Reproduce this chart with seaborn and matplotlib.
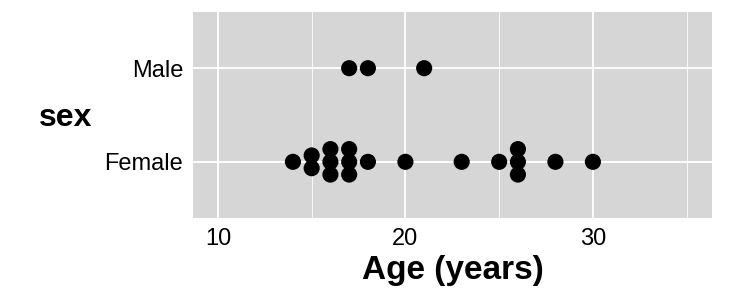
import numpy as np
import pandas as pd
import matplotlib.pyplot as plt
import seaborn as sns

# ages
female_ages = [14, 15, 15, 16, 16, 16, 17, 17, 17, 18, 20, 23, 25, 26, 26, 26, 28, 30]
male_ages = [17, 18, 21]
sex_levels = ['Female', 'Male']

df = pd.DataFrame({
    'age': female_ages + male_ages,
    'sex': ['Female'] * len(female_ages) + ['Male'] * len(male_ages),
})

# centred stacking of dots with the same age (like geom_dotplot stackdir='center')
step = 0.136
df['pos'] = df['sex'].map({s: i for i, s in enumerate(sex_levels)}).astype(float)
df['k'] = df.groupby(['sex', 'age']).cumcount()
df['n'] = df.groupby(['sex', 'age'])['age'].transform('size')
df['y'] = df['pos'] + (df['k'] - (df['n'] - 1) / 2) * step

sns.set_style('darkgrid')
plt.rcParams['font.family'] = ['Liberation Sans', 'DejaVu Sans']

fig = plt.figure(figsize=(7.5, 3), dpi=100)
ax = fig.add_axes([0.2573, 0.2733, 0.692, 0.6867])
ax.set_facecolor('#D6D6D6')

sns.scatterplot(data=df, x='age', y='y', color='black', s=135, edgecolor='none', ax=ax, zorder=3)

ax.set_xlim(8.67, 36.35)
ax.set_ylim(-0.6, 1.6)
ax.set_xticks([10, 20, 30])
ax.set_xticks([15, 25, 35], minor=True)
ax.set_yticks([0, 1])
ax.set_yticklabels(sex_levels)

ax.grid(which='major', color='white', linewidth=1.3)
ax.grid(which='minor', axis='x', color='white', linewidth=0.6)
ax.tick_params(axis='both', which='major', length=5, width=1.2, color='#333333',
               labelcolor='black', labelsize=17, pad=2)
ax.tick_params(axis='x', which='minor', length=0)
for sp in ax.spines.values():
    sp.set_visible(False)

ax.set_xlabel('Age (years)', fontsize=24, fontweight='bold', color='black', labelpad=4)
ax.set_ylabel('sex', fontsize=23, fontweight='bold', color='black', rotation=0,
              ha='center', va='center')
ax.yaxis.set_label_coords(-0.245, 0.485)

fig.savefig('out.png', dpi=100)
